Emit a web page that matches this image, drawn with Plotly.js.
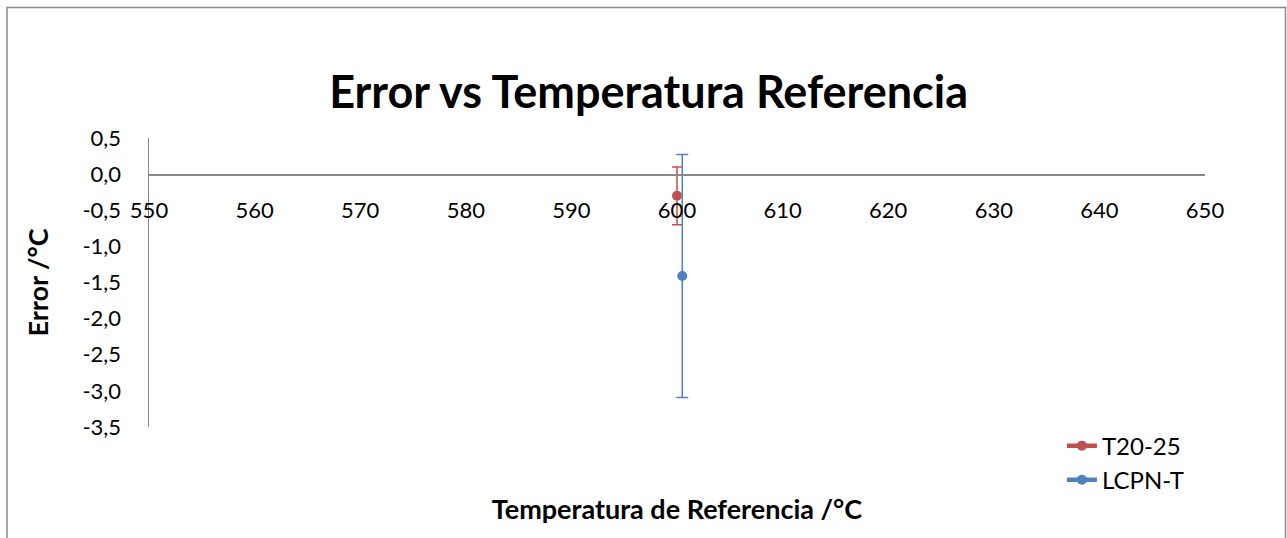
<!DOCTYPE html>
<html>
<head>
<meta charset="utf-8">
<script src="https://cdn.plot.ly/plotly-3.0.1.min.js"></script>
<style>html,body{margin:0;padding:0;background:#fff;}#chart{width:1287px;height:538px;}</style>
</head>
<body>
<div id="chart"></div>
<script>
const seriesNames = ['T20-25', 'LCPN-T'];
const seriesX = [[600.0], [600.5]];
const seriesY = [[-0.30], [-1.41]];
const seriesErr = [[0.40], [1.68]];
const seriesColors = ['#C0504D', '#4F81BD'];
const xTickVals = [550, 560, 570, 580, 590, 600, 610, 620, 630, 640, 650];
const xTickText = ['550', '560', '570', '580', '590', '600', '610', '620', '630', '640', '650'];
const yTickVals = [0.5, 0, -0.5, -1, -1.5, -2, -2.5, -3, -3.5];
const yTickText = ['0,5', '0,0', '-0,5', '-1,0', '-1,5', '-2,0', '-2,5', '-3,0', '-3,5'];

const FONT = 'Lato, "Open Sans", sans-serif';

const traces = seriesNames.map((name, i) => ({
  type: 'scatter',
  mode: 'lines+markers',
  name: name,
  x: seriesX[i],
  y: seriesY[i],
  line: {color: seriesColors[i], width: 4.5},
  marker: {color: seriesColors[i], size: 10},
  error_y: {type: 'data', array: seriesErr[i], visible: true, color: seriesColors[i], thickness: 1.5, width: 5 + i}
}));

const layout = {
  width: 1287, height: 538,
  margin: {l: 149, r: 82, t: 138, b: 111},
  paper_bgcolor: '#fff', plot_bgcolor: 'rgba(0,0,0,0)',
  font: {family: FONT, color: '#000', size: 22},
  showlegend: true,
  title: {text: '<b>Error vs Temperatura Referencia</b>', font: {family: FONT, size: 45, color: '#000'},
          x: 0.504, xref: 'container', xanchor: 'center', y: 1 - 92/538, yref: 'container', yanchor: 'middle'},
  xaxis: {
    range: [550, 650], tickvals: xTickVals, ticktext: xTickText,
    showgrid: false, zeroline: false, showline: true, linecolor: '#888', linewidth: 1.5,
    ticks: '', anchor: 'free', position: 0.875, ticklabelstandoff: 16,
    tickfont: {family: FONT, size: 22, color: '#000'},
    title: {text: '<b>Temperatura de Referencia /°C</b>', font: {family: FONT, size: 27, color: '#000'}, standoff: 278}
  },
  yaxis: {
    range: [-3.5, 0.5], tickvals: yTickVals, ticktext: yTickText,
    showgrid: false, zeroline: false, showline: true, linecolor: '#888', linewidth: 1.5,
    ticks: '', ticklabelstandoff: 22,
    tickfont: {family: FONT, size: 22, color: '#000'},
    title: {text: '<b>Error /°C</b>', font: {family: FONT, size: 27, color: '#000'}, standoff: 26}
  },
  legend: {x: 0.8645, xanchor: 'left', y: 0.012, yanchor: 'top', bgcolor: 'rgba(0,0,0,0)',
           font: {family: FONT, size: 24, color: '#000'}, tracegroupgap: 0},
  shapes: [{type: 'rect', xref: 'paper', yref: 'paper', x0: -0.1345, x1: 1.0762, y0: -0.42, y1: 1.4516,
            line: {color: '#898989', width: 1.5}, fillcolor: 'rgba(0,0,0,0)', layer: 'below'}]
};

Plotly.newPlot('chart', traces, layout, {displayModeBar: false, staticPlot: true});
</script>
</body>
</html>
